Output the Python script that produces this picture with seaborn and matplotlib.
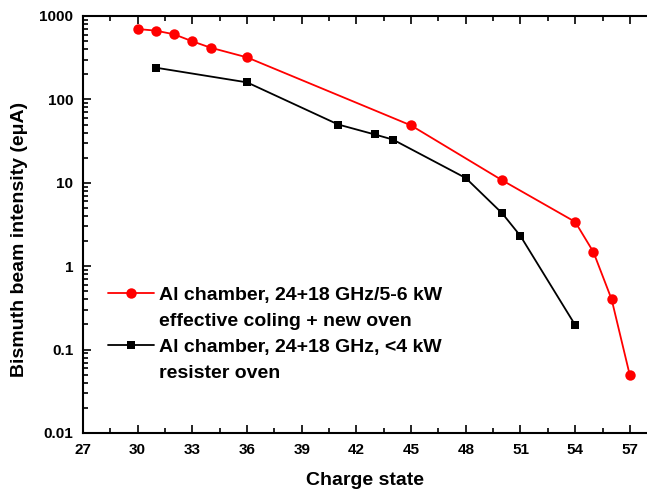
import matplotlib
matplotlib.use("Agg")
import matplotlib.pyplot as plt
import seaborn as sns
import pandas as pd
from matplotlib.lines import Line2D
from matplotlib.ticker import FixedLocator, LogLocator, NullFormatter, FixedFormatter

# Data
red_x = [30, 31, 32, 33, 34, 36, 45, 50, 54, 55, 56, 57]
red_y = [698, 667, 603, 497, 417, 319, 48.7, 10.7, 3.4, 1.48, 0.40, 0.049]
black_x = [31, 36, 41, 43, 44, 48, 50, 51, 54]
black_y = [240, 160, 50, 38, 33, 11.4, 4.3, 2.3, 0.197]
red_label = ["Al chamber, 24+18 GHz/5-6 kW", "effective coling + new oven"]
black_label = ["Al chamber, 24+18 GHz, <4 kW", "resister oven"]
x_ticks = [27, 30, 33, 36, 39, 42, 45, 48, 51, 54, 57]
y_ticks = [0.01, 0.1, 1, 10, 100, 1000]
y_tick_labels = ["0.01", "0.1", "1", "10", "100", "1000"]

sns.set_style("ticks")
plt.rcParams['font.family'] = ['Liberation Sans', 'DejaVu Sans']
plt.rcParams['font.weight'] = 'bold'
plt.rcParams['text.color'] = 'black'
plt.rcParams['axes.labelcolor'] = 'black'
plt.rcParams['xtick.color'] = 'black'
plt.rcParams['ytick.color'] = 'black'

fig = plt.figure(figsize=(6.47, 4.96), dpi=100)
ax = fig.add_axes([83/647, 1-433/496, 1-83/647, (433-16)/496])

df_r = pd.DataFrame({"x": red_x, "y": red_y})
df_b = pd.DataFrame({"x": black_x, "y": black_y})
sns.lineplot(data=df_r, x="x", y="y", ax=ax, color="#ff0000", marker="o",
             markersize=7.5, markeredgewidth=0, linewidth=1.3, legend=False)
sns.lineplot(data=df_b, x="x", y="y", ax=ax, color="black", marker="s",
             markersize=6.2, markeredgewidth=0, linewidth=1.3, legend=False)

ax.set_yscale("log")
ax.set_ylim(0.01, 1000)
ax.set_xlim(27, 57.94)
ax.xaxis.set_major_locator(FixedLocator(x_ticks))
ax.xaxis.set_minor_locator(FixedLocator([t + 1.5 for t in x_ticks]))
ax.yaxis.set_major_locator(FixedLocator(y_ticks))
ax.yaxis.set_major_formatter(FixedFormatter(y_tick_labels))
ax.yaxis.set_minor_locator(LogLocator(base=10, subs=range(2, 10)))
ax.yaxis.set_minor_formatter(NullFormatter())

for s in ["left", "bottom", "top"]:
    ax.spines[s].set_linewidth(1.5)
    ax.spines[s].set_color("black")
ax.spines["right"].set_visible(False)

ax.tick_params(axis="both", which="major", direction="in", length=6, width=1.2,
               labelsize=11, pad=7, colors="black")
ax.tick_params(axis="both", which="minor", direction="in", length=3.5, width=1.2)
ax.tick_params(axis="x", which="both", top=True)
ax.tick_params(axis="x", which="major", pad=7)
for lab in ax.get_xticklabels() + ax.get_yticklabels():
    lab.set_fontweight("bold")

ax.set_xlabel("Charge state", fontsize=14, fontweight="bold", color="black")
ax.set_ylabel("Bismuth beam intensity (eμA)", fontsize=14, fontweight="bold", color="black")
ax.xaxis.set_label_coords(0.5, -0.113)
ax.yaxis.set_label_coords(-0.113, 0.463)
ax.xaxis.label.set_verticalalignment("center")
ax.yaxis.label.set_verticalalignment("center")

h_red = Line2D([], [], color="#ff0000", marker="o", markersize=7.5, markeredgewidth=0, linewidth=1.3)
h_black = Line2D([], [], color="black", marker="s", markersize=6.2, markeredgewidth=0, linewidth=1.3)
h_none = Line2D([], [], color="none", linewidth=0)
leg = fig.legend([h_red, h_none, h_black, h_none],
                 [red_label[0], red_label[1], black_label[0], black_label[1]],
                 loc="upper left", bbox_to_anchor=(108/647, 1-286/496),
                 frameon=False, borderpad=0, borderaxespad=0,
                 handlelength=2.37, handletextpad=0.26, labelspacing=0.43,
                 prop={"size": 14, "weight": "bold"})
for t in leg.get_texts():
    t.set_color("black")

fig.savefig("out.png", dpi=100)
